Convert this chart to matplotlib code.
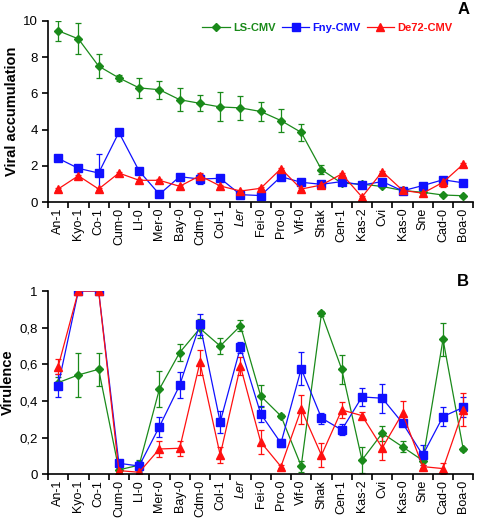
import matplotlib.pyplot as plt
from matplotlib.lines import Line2D
import numpy as np

plt.rcParams['font.family'] = ['Liberation Sans', 'DejaVu Sans']

accessions = ["An-1", "Kyo-1", "Co-1", "Cum-0", "Ll-0", "Mer-0", "Bay-0", "Cdm-0", "Col-1", "Ler",
              "Fei-0", "Pro-0", "Vif-0", "Shak", "Cen-1", "Kas-2", "Cvi", "Kas-0", "Sne", "Cad-0", "Boa-0"]

# panel A: viral accumulation
ls_acc = [9.45, 9.0, 7.5, 6.85, 6.3, 6.2, 5.65, 5.45, 5.25, 5.2, 5.0, 4.5, 3.85, 1.8, 1.05, 1.0, 0.87, 0.65, 0.55, 0.4, 0.36]
ls_acc_err = [0.55, 0.85, 0.67, 0.15, 0.55, 0.5, 0.65, 0.45, 0.8, 0.65, 0.5, 0.65, 0.45, 0.25, 0.05, 0.05, 0.05, 0.05, 0.05, 0.05, 0.05]
fny_acc = [2.42, 1.87, 1.61, 3.85, 1.72, 0.44, 1.41, 1.28, 1.32, 0.42, 0.37, 1.41, 1.1, 0.99, 1.14, 0.95, 1.14, 0.63, 0.92, 1.24, 1.07]
fny_acc_err = [0.15, 0.05, 1.03, 0.08, 0.05, 0.1, 0.05, 0.3, 0.05, 0.05, 0.05, 0.05, 0.05, 0.05, 0.05, 0.05, 0.05, 0.05, 0.05, 0.05, 0.05]
de72_acc = [0.73, 1.46, 0.73, 1.61, 1.21, 1.21, 0.88, 1.46, 0.9, 0.62, 0.77, 1.85, 0.73, 0.95, 1.56, 0.29, 1.69, 0.66, 0.5, 1.1, 2.1]
de72_acc_err = [0.05, 0.05, 0.05, 0.05, 0.05, 0.05, 0.05, 0.15, 0.05, 0.05, 0.05, 0.05, 0.05, 0.05, 0.05, 0.05, 0.05, 0.05, 0.1, 0.25, 0.05]

# panel B: virulence
ls_vir = [0.5, 0.542, 0.573, 0.024, 0.05, 0.465, 0.664, 0.796, 0.7, 0.81, 0.427, 0.318, 0.045, 0.878, 0.573, 0.078, 0.224, 0.15, 0.075, 0.736, 0.136]
ls_vir_err = [0.03, 0.12, 0.09, 0.01, 0.03, 0.1, 0.045, 0.05, 0.045, 0.03, 0.06, 0.01, 0.03, 0.015, 0.08, 0.07, 0.04, 0.03, 0.01, 0.09, 0.01]
fny_vir = [0.484, 1.0, 1.0, 0.06, 0.045, 0.26, 0.486, 0.818, 0.285, 0.693, 0.33, 0.17, 0.576, 0.307, 0.242, 0.422, 0.415, 0.28, 0.105, 0.315, 0.365]
fny_vir_err = [0.065, 0.0, 0.0, 0.02, 0.03, 0.055, 0.07, 0.058, 0.06, 0.03, 0.045, 0.02, 0.09, 0.03, 0.03, 0.05, 0.08, 0.015, 0.055, 0.05, 0.055]
de72_vir = [0.587, 1.0, 1.0, 0.02, 0.011, 0.138, 0.142, 0.61, 0.105, 0.59, 0.176, 0.042, 0.355, 0.104, 0.351, 0.32, 0.144, 0.333, 0.042, 0.031, 0.351]
de72_vir_err = [0.04, 0.0, 0.0, 0.01, 0.01, 0.045, 0.04, 0.07, 0.045, 0.05, 0.065, 0.01, 0.08, 0.065, 0.045, 0.02, 0.065, 0.065, 0.01, 0.03, 0.09]

green = "#1a8a1a"
blue = "#1010ff"
red = "#ff1010"

x = np.arange(len(accessions))

fig = plt.figure(figsize=(4.78, 5.18), dpi=100)
axA = fig.add_axes([0.1004, 0.6095, 0.890, 0.3505])
axB = fig.add_axes([0.1004, 0.0844, 0.890, 0.3538])


def draw(ax, series):
    for vals, errs, col, mk, ms in series:
        ax.errorbar(x, vals, yerr=errs, color=col, marker=mk, markersize=ms, lw=0.9,
                    elinewidth=0.9, capsize=2.5, capthick=0.9, ecolor=col)


draw(axA, [(ls_acc, ls_acc_err, green, "D", 4),
           (fny_acc, fny_acc_err, blue, "s", 6),
           (de72_acc, de72_acc_err, red, "^", 6)])
draw(axB, [(ls_vir, ls_vir_err, green, "D", 4),
           (fny_vir, fny_vir_err, blue, "s", 6),
           (de72_vir, de72_vir_err, red, "^", 6)])

axA.set_ylim(0, 10)
axA.set_yticks([0, 2, 4, 6, 8, 10])
axB.set_ylim(0, 1)
axB.set_yticks([0, 0.2, 0.4, 0.6, 0.8, 1.0])
axB.set_yticklabels(["0", "0,2", "0,4", "0,6", "0,8", "1"])

for ax in (axA, axB):
    ax.set_xlim(-0.5, len(accessions) - 0.5)
    ax.spines['top'].set_visible(False)
    ax.spines['right'].set_visible(False)
    ax.spines['left'].set_linewidth(1.2)
    ax.spines['bottom'].set_linewidth(1.2)
    ax.set_xticks(x)
    ax.set_xticklabels(accessions, rotation=90, fontsize=9)
    ax.set_xticks(np.arange(len(accessions) + 1) - 0.5, minor=True)
    ax.tick_params(axis='x', which='major', length=0, pad=4)
    ax.tick_params(axis='x', which='minor', length=4, width=1.2, direction='out')
    ax.tick_params(axis='y', length=4, width=1.2, labelsize=9.5)
    for t in ax.get_xticklabels():
        if t.get_text() == "Ler":
            t.set_style('italic')

axA.set_ylabel("Viral accumulation", fontsize=10.5, fontweight='bold', labelpad=3)
axB.set_ylabel("Virulence", fontsize=10.5, fontweight='bold', labelpad=3)

handles = [Line2D([], [], color=green, marker="D", markersize=4, lw=0.9),
           Line2D([], [], color=blue, marker="s", markersize=6, lw=0.9),
           Line2D([], [], color=red, marker="^", markersize=6, lw=0.9)]
leg = axA.legend(handles, ["LS-CMV", "Fny-CMV", "De72-CMV"], loc='upper right',
                 bbox_to_anchor=(0.975, 1.045), ncol=3, frameon=False,
                 fontsize=8, handlelength=2.5, handletextpad=0.3, columnspacing=0.5)
for txt, col in zip(leg.get_texts(), [green, blue, red]):
    txt.set_color(col)
    txt.set_fontweight('bold')

fig.text(0.969, 0.982, "A", fontsize=12, fontweight='bold', ha='center', va='center')
fig.text(0.969, 0.457, "B", fontsize=12, fontweight='bold', ha='center', va='center')

fig.savefig("out.png", dpi=100)
